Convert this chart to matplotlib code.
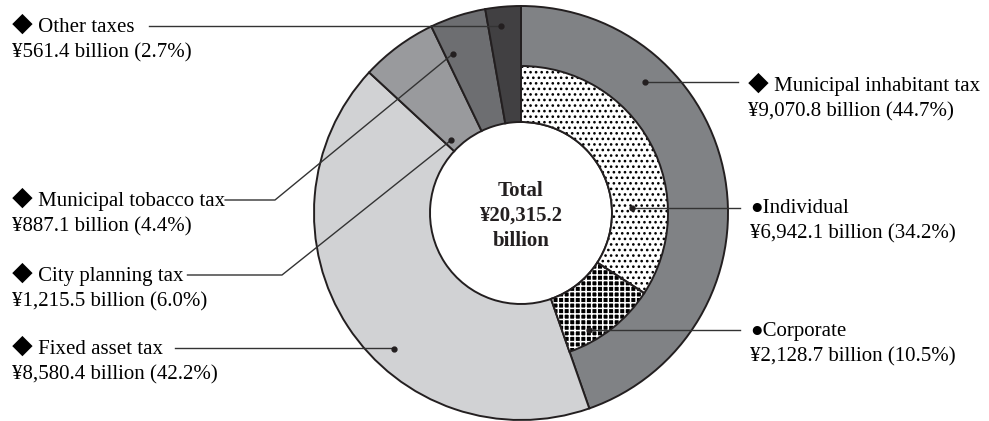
import numpy as np
import matplotlib
matplotlib.use("Agg")
import matplotlib.pyplot as plt

# Tax revenue in billion yen
tax_names = ["Municipal inhabitant tax", "Fixed asset tax", "City planning tax",
             "Municipal tobacco tax", "Other taxes"]
tax_values = [9070.8, 8580.4, 1215.5, 887.1, 561.4]
tax_shares = [44.7, 42.2, 6.0, 4.4, 2.7]

sub_names = ["Individual", "Corporate"]
sub_values = [6942.1, 2128.7]
sub_shares = [34.2, 10.5]

total = sum(tax_values)

outer_colors = ["#808285", "#d1d2d4", "#999a9d", "#6d6e71", "#414042"]

plt.rcParams["font.family"] = ["Liberation Serif", "DejaVu Sans"]
plt.rcParams["hatch.linewidth"] = 1.1

# diamond comes from the CJK font (full width, like the original)
diamond_font = ["Liberation Serif", "Noto Sans CJK JP", "DejaVu Sans"]

fig = plt.figure(figsize=(9.89, 4.21), dpi=100)
ax = fig.add_axes([0, 0, 1, 1])

cx, cy = 521, 213
R_out, R_mid, R_in = 207, 147, 91

# y axis is flipped later, so start at -90 and go counterclockwise in data space
outer, _ = ax.pie(tax_values, radius=R_out, center=(cx, cy), startangle=-90,
                  counterclock=True, colors=outer_colors,
                  wedgeprops=dict(width=R_out - R_in, edgecolor="#231f20",
                                  linewidth=1.4))

rest = total - sum(sub_values)
inner_vals = sub_values + [rest]

# hatched fills for the inhabitant tax breakdown
inner, _ = ax.pie(inner_vals, radius=R_mid, center=(cx, cy), startangle=-90,
                  counterclock=True, colors=["white", "black", "none"],
                  wedgeprops=dict(width=R_mid - R_in, linewidth=0))
inner[0].set_hatch("...")
inner[0].set_edgecolor("black")
inner[0].set_linewidth(0)
inner[1].set_hatch("+++")
inner[1].set_edgecolor("white")
inner[1].set_linewidth(0)
inner[2].set_visible(False)

# outlines on top
lines, _ = ax.pie(inner_vals, radius=R_mid, center=(cx, cy), startangle=-90,
                  counterclock=True,
                  wedgeprops=dict(width=R_mid - R_in, fill=False,
                                  edgecolor="#231f20", linewidth=1.4))
lines[2].set_visible(False)

ax.set_xlim(0, 989)
ax.set_ylim(421, 0)
ax.set_aspect("equal")
ax.axis("off")


def anchor(w, t, r):
    ang = np.radians(w.theta1 + t * (w.theta2 - w.theta1))
    return w.center[0] + r * np.cos(ang), w.center[1] + r * np.sin(ang)


fs = 15
line_kw = dict(color="#333333", linewidth=1.0)
renderer = fig.canvas.get_renderer()

# (wedge, fraction along wedge, radius, leader y, elbow x, gap)
left_labels = [
    (outer[4], 0.40, 188, 26, None, 14),
    (outer[3], 0.15, 173, 200, 275, 0),
    (outer[2], 0.15, 101, 275, 282, 4),
    (outer[1], 0.41, 186, 348, None, 12),
]
left_idx = [4, 3, 2, 1]

for (w, t, r, ty, ex, gap), i in zip(left_labels, left_idx):
    txt = ax.text(12, ty + 6, "\u25c6 " + tax_names[i], fontsize=fs,
                  va="baseline", ha="left", family=diamond_font)
    ax.text(12, ty + 31, "¥{:,.1f} billion ({:.1f}%)".format(tax_values[i], tax_shares[i]),
            fontsize=fs, va="baseline", ha="left")
    bb = txt.get_window_extent(renderer)
    x0 = ax.transData.inverted().transform((bb.x1, 0))[0] + gap
    ax_, ay_ = anchor(w, t, r)
    if ex is None:
        ax.plot([x0, ax_], [ty, ty], **line_kw)
    else:
        ax.plot([x0, ex, ax_], [ty, ty, ay_], **line_kw)
    ax.plot(ax_, ay_, "o", color="#231f20", markersize=3.5)

# right side labels
right_labels = [
    (outer[0], 0.27, 180, 85, "\u25c6 " + tax_names[0], tax_values[0], tax_shares[0], 748, diamond_font),
    (inner[0], 0.71, 111, 207, "\u25cf" + sub_names[0], sub_values[0], sub_shares[0], 750, None),
    (inner[1], 0.71, 135, 330, "\u25cf" + sub_names[1], sub_values[1], sub_shares[1], 750, None),
]
for w, t, r, ty, head, val, share, tx, fam in right_labels:
    ax.text(tx, ty + 6, head, fontsize=fs, va="baseline", ha="left", family=fam)
    ax.text(tx, ty + 31, "¥{:,.1f} billion ({:.1f}%)".format(val, share),
            fontsize=fs, va="baseline", ha="left")
    ax_, ay_ = anchor(w, t, r)
    ax.plot([ax_, tx - 10], [ay_, ay_], **line_kw)
    ax.plot(ax_, ay_, "o", color="#231f20", markersize=3.5)

ax.text(cx, 216, "Total\n¥{:,.1f}\nbillion".format(total), fontsize=fs,
        fontweight="bold", ha="center", va="center", linespacing=1.35,
        color="#231f20")

fig.savefig("out.png", dpi=100)
